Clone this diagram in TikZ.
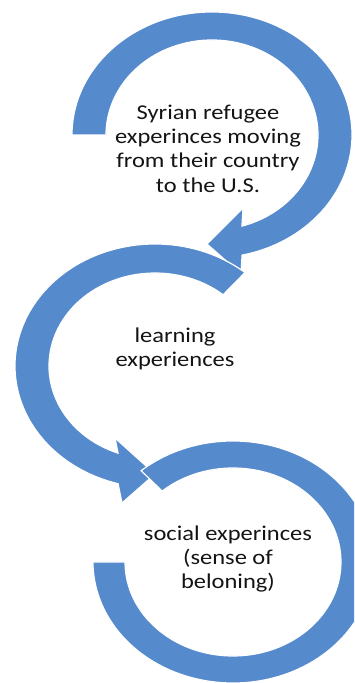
\documentclass[tikz,border=0pt]{standalone}
\usepackage{fontspec}
\setmainfont{Carlito}
\usetikzlibrary{calc}
\definecolor{arcblue}{RGB}{85,138,205}
\definecolor{txt}{RGB}{20,20,20}
\tikzset{
  ring/.style={fill=arcblue, draw=white, line width=1.2pt, line join=miter},
  label/.style={align=center, text=txt, font=\fontsize{24.5}{28.4}\selectfont, inner sep=0pt, yscale=0.86, transform shape}
}
\begin{document}
\begin{tikzpicture}[x=1pt,y=1pt]
\useasboundingbox (0,0) rectangle (354,683);
\clip (0,0) rectangle (354,683);
\coordinate (tc) at (212,548);
\coordinate (mc) at (155,317);
\coordinate (bc) at (233,121);
% top arc with arrowhead
\path[ring] ($(tc)+(180:140 and 123)$)
  arc[start angle=180, end angle=-77.6, x radius=140, y radius=123]
  -- (241,409) -- (207,439) -- (243,475)
  -- ($(tc)+(-73.6:106 and 95)$)
  arc[start angle=-73.6, end angle=180, x radius=106, y radius=95] -- cycle;
% middle arc with arrowhead
\path[ring] ($(mc)+(50:140 and 122)$)
  arc[start angle=50, end angle=254.7, x radius=140, y radius=122]
  -- (122,180) -- (155,209) -- (115,245)
  -- ($(mc)+(249.6:106 and 93)$)
  arc[start angle=249.6, end angle=50, x radius=106, y radius=93] -- cycle;
% bottom arc
\path[ring] ($(bc)+(131:140 and 121)$)
  arc[start angle=131, end angle=-180, x radius=140, y radius=121]
  -- ($(bc)+(-180:108 and 94)$)
  arc[start angle=-180, end angle=131, x radius=108, y radius=94] -- cycle;
% labels
\node[label] (t1) at (208,534.5) {Syrian refugee\\experinces moving\\from their country\\to the U.S.};
\node[label] (t2) at (175,334) {learning\\experiences};
\node[label] (t3) at (228,124) {social experinces\\(sense of\\beloning)};
\end{tikzpicture}
\end{document}
